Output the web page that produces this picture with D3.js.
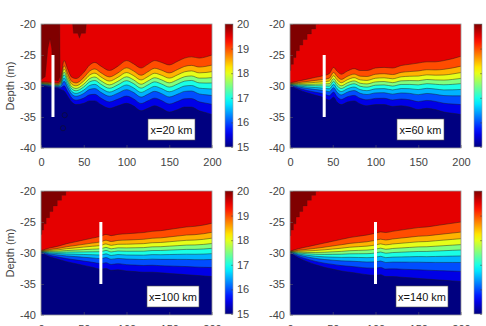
<!DOCTYPE html>
<html>
<head>
<meta charset="utf-8">
<script src="https://cdn.jsdelivr.net/npm/d3@7"></script>
<style>
  body { margin: 0; background: #fff; }
  svg { display: block; font-family: "Liberation Sans", Arial, sans-serif; }
</style>
</head>
<body>
<svg id="chart" width="486" height="326"></svg>
<script>
// tick labels
var xTicks = [0, 50, 100, 150, 200],
  yTicks = [-20, -25, -30, -35, -40],
  cbTicks = [15, 16, 17, 18, 19, 20];

// contour levels (deg) and where each sits between top and bottom isotherm
var levels = [19.5, 19, 18.5, 18, 17.5, 17, 16.5, 16, 15.5],
  levelFrac = [0, 0.17, 0.28, 0.38, 0.47, 0.57, 0.68, 0.83, 1.0];

var labels = ["x=20 km", "x=60 km", "x=100 km", "x=140 km"];
var barKm = [14, 40, 70, 100];

// panel 1: depth of the 19.5 and 15.5 isotherms along x (km)
var x1 = [0, 10, 20, 23, 27, 31, 36, 41, 50, 57, 63, 70, 80, 90, 100, 108, 117, 125, 133, 141, 150, 160, 168, 176, 185, 193, 200];
var top1 = [-29.3, -29.4, -29.5, -28.8, -25.9, -27.2, -28.6, -28.8, -27.8, -26.6, -26.2, -26.8, -27.5, -26.8, -25.9, -26.4, -27.1, -26.5, -25.9, -26.2, -26.6, -26.0, -25.5, -25.3, -25.5, -25.3, -25.0];
var bot1 = [-30.0, -30.2, -30.4, -30.6, -30.8, -31.6, -32.6, -33.0, -32.8, -32.4, -32.4, -33.0, -33.6, -33.2, -32.8, -33.2, -34.0, -33.6, -33.2, -33.6, -34.2, -33.8, -33.4, -33.4, -34.0, -34.3, -34.6];

// panel 2
var x2 = [0, 10, 20, 30, 40, 46, 51, 55, 60, 67, 75, 82, 90, 100, 110, 120, 130, 140, 150, 160, 170, 180, 190, 200];
var top2 = [-29.5, -29.2, -28.9, -28.6, -28.3, -28.0, -27.0, -27.6, -28.1, -27.6, -27.2, -27.5, -27.5, -27.1, -27.0, -27.1, -26.7, -26.5, -26.3, -26.1, -26.1, -25.9, -25.6, -25.2];
var bot2 = [-30.0, -30.6, -31.1, -31.5, -31.9, -32.3, -31.8, -32.6, -33.0, -32.6, -32.4, -32.9, -33.2, -33.0, -33.0, -33.3, -33.2, -33.4, -33.8, -33.6, -33.8, -34.2, -34.4, -34.6];

// panel 3
var x3 = [0, 10, 20, 30, 40, 50, 60, 70, 76, 82, 90, 100, 110, 120, 130, 140, 150, 160, 170, 180, 190, 200];
var top3 = [-29.6, -29.2, -28.9, -28.5, -28.2, -27.9, -27.6, -27.3, -27.0, -27.2, -27.0, -26.9, -26.8, -26.7, -26.5, -26.4, -26.2, -26.0, -25.8, -25.7, -25.5, -25.2];
var bot3 = [-30.0, -30.6, -31.0, -31.4, -31.7, -32.0, -32.3, -32.6, -32.5, -32.8, -32.7, -32.9, -33.0, -33.1, -33.1, -33.2, -33.3, -33.4, -33.5, -33.6, -33.7, -33.8];

// panel 4
var x4 = [0, 10, 20, 30, 40, 50, 60, 70, 80, 90, 100, 106, 112, 120, 130, 140, 150, 160, 170, 180, 190, 200];
var top4 = [-29.7, -29.3, -29.0, -28.7, -28.4, -28.1, -27.8, -27.5, -27.3, -27.1, -26.8, -26.6, -26.7, -26.5, -26.3, -26.1, -25.9, -25.8, -25.6, -25.4, -25.2, -25.0];
var bot4 = [-30.0, -30.8, -31.4, -31.9, -32.3, -32.6, -32.9, -33.1, -33.3, -33.5, -33.6, -33.5, -33.8, -33.8, -33.9, -34.0, -34.1, -34.2, -34.3, -34.4, -34.5, -34.6];

// warm (>20) patches near the surface, [km, depth]
var hot1a = [[0, -20], [22, -20], [22.5, -28.5], [20, -29.2], [14, -29], [12.5, -24], [10.5, -22.4], [8, -24], [5, -28.5], [0, -29]];
var hot1b = [[37, -20], [53, -20], [52, -21.5], [47, -21.5], [45, -22.3], [43, -21.5], [38, -21.5]];
var hotEdge2 = [[34, -20], [30, -20.8], [25, -21.6], [20, -22.5], [15, -23.4], [11, -24.3], [7, -25.4], [4, -26.5], [1, -27.5], [0, -27.5]];
var hotEdge3 = [[33, -20], [29, -20.7], [24, -21.5], [19, -22.4], [14, -23.3], [10, -24.3], [6, -25.3], [3, -26.3], [1, -27], [0, -27]];
var hotEdge4 = [[34, -20], [30, -20.7], [25, -21.5], [20, -22.4], [15, -23.3], [11, -24.2], [7, -25.3], [4, -26.3], [1, -27.2], [0, -27.2]];

// small closed contours in panel 1
var islands1 = [[27.7, -34.7], [25.7, -36.8]];

var panels = [
  { x: x1, top: top1, bot: bot1, hot: [hot1a, hot1b], edge: null, islands: islands1, left: 41, topPx: 24 },
  { x: x2, top: top2, bot: bot2, hot: [], edge: hotEdge2, islands: [], left: 290, topPx: 24 },
  { x: x3, top: top3, bot: bot3, hot: [], edge: hotEdge3, islands: [], left: 41, topPx: 191 },
  { x: x4, top: top4, bot: bot4, hot: [], edge: hotEdge4, islands: [], left: 290, topPx: 191 }
];

var plotW = 171, plotH = 124;

function jet(t) {
  var c = function (v) { return Math.round(255 * Math.max(0, Math.min(1, v))); };
  return "rgb(" + c(1.5 - Math.abs(4 * t - 3)) + "," + c(1.5 - Math.abs(4 * t - 2)) + "," + c(1.5 - Math.abs(4 * t - 1)) + ")";
}
var tOf = function (v) { return (v - 15) / 5; };

var svg = d3.select("#chart");
var defs = svg.append("defs");

// colorbar gradient
var grad = defs.append("linearGradient").attr("id", "jetgrad")
  .attr("x1", 0).attr("y1", 1).attr("x2", 0).attr("y2", 0);
d3.range(0, 1.0001, 0.05).forEach(function (t) {
  grad.append("stop").attr("offset", t).attr("stop-color", jet(t));
});

panels.forEach(function (p, pi) {
  var xScale = d3.scaleLinear().domain([0, 200]).range([0, plotW]);
  var yScale = d3.scaleLinear().domain([-20, -40]).range([0, plotH]);

  var g = svg.append("g").attr("transform", "translate(" + p.left + "," + p.topPx + ")");

  defs.append("clipPath").attr("id", "clip" + pi)
    .append("rect").attr("width", plotW).attr("height", plotH);

  var field = g.append("g").attr("clip-path", "url(#clip" + pi + ")");

  field.append("rect").attr("width", plotW).attr("height", plotH).attr("fill", jet(0));

  var rows = p.x.map(function (xv, i) { return { x: xv, top: p.top[i], bot: p.bot[i] }; });
  var depthAt = function (d, k) { return d.top + (d.bot - d.top) * levelFrac[k]; };

  // filled bands, deepest first
  for (var k = levels.length - 1; k >= 0; k--) {
    (function (k) {
      var area = d3.area()
        .x(function (d) { return xScale(d.x); })
        .y0(yScale(-20))
        .y1(function (d) { return yScale(depthAt(d, k)); })
        .curve(d3.curveMonotoneX);
      field.append("path").datum(rows).attr("d", area).attr("fill", jet(tOf(levels[k])));
    })(k);
  }

  // warm patches
  var hotLine = d3.line().x(function (d) { return xScale(d[0]); }).y(function (d) { return yScale(d[1]); });
  p.hot.forEach(function (poly) {
    field.append("path").datum(poly).attr("d", hotLine.curve(d3.curveLinear)(poly) + "Z")
      .attr("fill", jet(1)).attr("stroke", "#222").attr("stroke-width", 0.4).attr("stroke-opacity", 0.6);
  });
  if (p.edge) {
    var edgePath = d3.line().x(function (d) { return xScale(d[0]); }).y(function (d) { return yScale(d[1]); })
      .curve(d3.curveStepAfter)(p.edge);
    field.append("path")
      .attr("d", edgePath + "L" + xScale(0) + "," + yScale(-20) + "Z")
      .attr("fill", jet(1)).attr("stroke", "#222").attr("stroke-width", 0.4).attr("stroke-opacity", 0.6);
  }

  // contour lines
  levels.forEach(function (lv, k) {
    var line = d3.line()
      .x(function (d) { return xScale(d.x); })
      .y(function (d) { return yScale(depthAt(d, k)); })
      .curve(d3.curveMonotoneX);
    field.append("path").datum(rows).attr("d", line)
      .attr("fill", "none").attr("stroke", "#1a1a1a").attr("stroke-width", 0.6).attr("stroke-opacity", 0.75);
  });

  p.islands.forEach(function (c) {
    field.append("circle").attr("cx", xScale(c[0])).attr("cy", yScale(c[1])).attr("r", 2.6)
      .attr("fill", "none").attr("stroke", "#111").attr("stroke-width", 0.7).attr("stroke-opacity", 0.7);
  });

  // section marker
  g.append("rect")
    .attr("x", xScale(barKm[pi]) - 1.5).attr("y", yScale(-25))
    .attr("width", 3).attr("height", yScale(-35) - yScale(-25))
    .attr("fill", "#fff");

  // label box
  var box = g.append("g").attr("transform", "translate(" + (plotW - 64) + "," + (plotH - 29) + ")");
  var bw = pi >= 2 ? 52 : 47;
  box.append("rect").attr("x", pi >= 2 ? -1 : 0).attr("width", bw).attr("height", 21)
    .attr("fill", "#fff").attr("stroke", "#555").attr("stroke-width", 0.6);
  box.append("text").attr("x", (pi >= 2 ? -1 : 0) + bw / 2).attr("y", 14.5)
    .attr("text-anchor", "middle").attr("font-size", 11).attr("fill", "#111")
    .text(labels[pi]);

  // axes
  var fmt = function (d) { return String(d); };
  var ax = g.append("g").attr("transform", "translate(0," + plotH + ")")
    .call(d3.axisBottom(xScale).tickValues(xTicks).tickFormat(fmt).tickSizeInner(-3).tickSizeOuter(0).tickPadding(10));
  var ay = g.append("g")
    .call(d3.axisLeft(yScale).tickValues(yTicks).tickFormat(fmt).tickSizeInner(-3).tickSizeOuter(0).tickPadding(5));
  [ax, ay].forEach(function (a) {
    a.select(".domain").remove();
    a.selectAll("line").attr("stroke", "#666").attr("stroke-width", 0.5);
    a.selectAll("text").attr("font-size", 11).attr("fill", "#444").attr("font-family", "Liberation Sans, Arial, sans-serif");
  });
  g.append("rect").attr("width", plotW).attr("height", plotH)
    .attr("fill", "none").attr("stroke", "#9a9a9a").attr("stroke-width", 0.8);

  if (pi % 2 === 0) {
    g.append("text")
      .attr("transform", "translate(" + (-27) + "," + (plotH / 2) + ") rotate(-90)")
      .attr("text-anchor", "middle").attr("font-size", 11).attr("fill", "#444")
      .text("Depth (m)");
  }

  // colorbar (right-hand column's labels fall outside the window, as in the original)
  var cbScale = d3.scaleLinear().domain([15, 20]).range([plotH - 1, 0]);
  var cb = g.append("g").attr("transform", "translate(" + (plotW + 13) + ",0)");
  cb.append("rect").attr("width", 8).attr("height", plotH - 1).attr("fill", "url(#jetgrad)")
    .attr("stroke", "#9a9a9a").attr("stroke-width", 0.6);
  var cba = cb.append("g").attr("transform", "translate(8,0)")
    .call(d3.axisRight(cbScale).tickValues(cbTicks).tickFormat(pi % 2 === 0 ? fmt : function () { return ""; })
      .tickSizeInner(-2).tickSizeOuter(0).tickPadding(4));
  cba.select(".domain").remove();
  cba.selectAll("line").attr("stroke", "#444").attr("stroke-width", 0.5);
  cba.selectAll("text").attr("font-size", 11).attr("fill", "#444").attr("font-family", "Liberation Sans, Arial, sans-serif");
});
</script>
</body>
</html>
